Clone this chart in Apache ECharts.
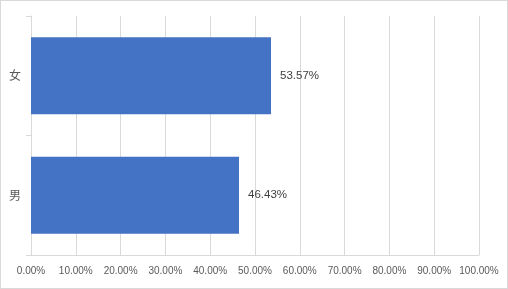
<!DOCTYPE html>
<html><head><meta charset="utf-8">
<script src="https://cdn.jsdelivr.net/npm/echarts@6/dist/echarts.min.js"></script>
<style>
html,body{margin:0;padding:0;background:#fff;}
#c{width:508px;height:289px;box-sizing:border-box;border:1px solid #d9d9d9;}
</style></head><body>
<div id="c"></div>
<script>
var categories = ['女', '男'];
var values = [53.57, 46.43];
var tickValues = [0, 10, 20, 30, 40, 50, 60, 70, 80, 90, 100];

var chart = echarts.init(document.getElementById('c'), null, {renderer: 'canvas'});
chart.setOption({
  animation: false,
  backgroundColor: '#fff',
  grid: {left: 30, right: 28, top: 15, bottom: 33, containLabel: false},
  xAxis: {
    type: 'value', min: tickValues[0], max: tickValues[tickValues.length - 1], interval: 10,
    axisLine: {show: true, lineStyle: {color: '#d9d9d9'}},
    axisTick: {show: false},
    splitLine: {show: true, lineStyle: {color: '#d9d9d9', width: 1}},
    axisLabel: {color: '#595959', fontFamily: 'Liberation Sans, Arial, sans-serif', fontSize: 10, margin: 11,
      formatter: function (v) { return v.toFixed(2) + '%'; }}
  },
  yAxis: {
    type: 'category', data: categories, inverse: true,
    axisLine: {show: true, lineStyle: {color: '#d9d9d9'}},
    axisTick: {show: true, length: 5, lineStyle: {color: '#d9d9d9'}},
    axisLabel: {color: '#595959', fontFamily: 'Noto Sans CJK SC, sans-serif', fontSize: 12, margin: 10}
  },
  series: [{
    type: 'bar', data: values, barWidth: '64.5%',
    itemStyle: {color: '#4472C4'},
    label: {show: true, position: 'right', distance: 9, color: '#404040',
      fontFamily: 'Liberation Sans, Arial, sans-serif', fontSize: 11.5,
      formatter: function (p) { return p.value.toFixed(2) + '%'; }}
  }]
});
</script>
</body></html>
